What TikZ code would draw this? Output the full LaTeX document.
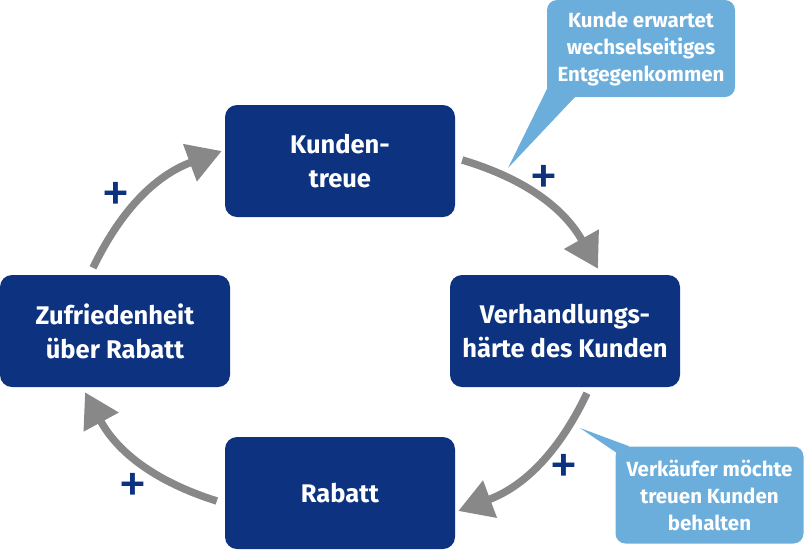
\documentclass[tikz,border=0pt]{standalone}
\usepackage{fontspec}
\setmainfont{Fira Sans}
\usetikzlibrary{arrows.meta}
\definecolor{boxblue}{RGB}{12,50,128}
\definecolor{callblue}{RGB}{107,174,220}
\definecolor{arrgrey}{RGB}{136,136,136}
\tikzset{
  mainbox/.style={fill=boxblue, rounded corners=12pt, minimum width=230pt, minimum height=112pt,
    inner sep=0pt, text=white, align=center, font=\fontsize{25.5}{34}\selectfont\bfseries},
  callbox/.style={fill=callblue, rounded corners=10pt, inner sep=0pt, text=white, align=center,
    font=\fontsize{20.5}{27}\selectfont\bfseries},
  cyclearrow/.style={draw=arrgrey, line width=7.5pt, -{Triangle[length=34pt,width=38pt]}},
  plussign/.style={text=boxblue, font=\fontsize{58}{58}\selectfont, inner sep=0pt}
}
\begin{document}
\begin{tikzpicture}[x=1pt,y=-1pt]
\useasboundingbox (0,0) rectangle (804,550);
% main boxes
\node[mainbox] (treue) at (340,161) {Kunden-\\treue};
\node[mainbox] (zuf) at (115,331) {Zufriedenheit\\über Rabatt};
\node[mainbox] (verh) at (565,331) {Verhandlungs-\\härte des Kunden};
\node[mainbox] (rab) at (340,493) {Rabatt};
% callouts
\node[callbox, minimum width=188pt, minimum height=97pt] (c1) at (641,48.5) {Kunde erwartet\\wechselseitiges\\Entgegenkommen};
\node[callbox, minimum width=188pt, minimum height=97pt] (c2) at (709.5,495) {Verkäufer möchte\\treuen Kunden\\behalten};
\coordinate (tip1) at (508,168);
\coordinate (tip2) at (580,428);
\fill[callblue] ([shift={(3,-14)}]c1.south west) -- (tip1) -- ([shift={(28,0)}]c1.south west) -- cycle;
\fill[callblue] ([shift={(2,7)}]c2.north west) -- (tip2) -- ([shift={(14,0)}]c2.north west) -- cycle;
% arrows
\draw[cyclearrow] ([shift={(-22,-7)}]zuf.north) to[bend left=22] ([shift={(-3,-10)}]treue.west);
\draw[cyclearrow] ([shift={(7,-1)}]treue.east) to[bend left=22] ([shift={(33,-6)}]verh.north);
\draw[cyclearrow] ([shift={(22,6)}]verh.south) to[bend left=22] ([shift={(3,18)}]rab.east);
\draw[cyclearrow] ([shift={(-8,8)}]rab.west) to[bend left=22] ([shift={(-30,5)}]zuf.south);
% plus signs
\node[plussign] (p1) at (116,197) {+};
\node[plussign] (p2) at (544,180) {+};
\node[plussign] (p3) at (564,469) {+};
\node[plussign] (p4) at (133,488) {+};
\end{tikzpicture}
\end{document}
